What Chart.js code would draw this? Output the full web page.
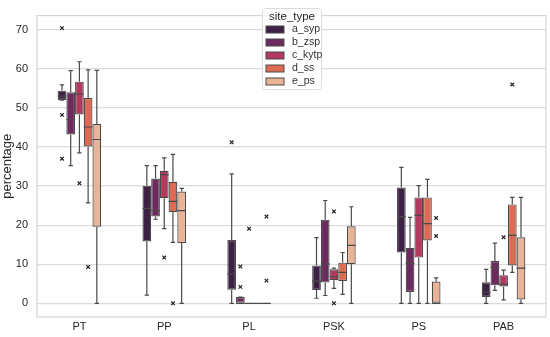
<!DOCTYPE html>
<html>
<head>
<meta charset="utf-8">
<script src="https://cdn.jsdelivr.net/npm/chart.js@4"></script>
<style>
  html, body { margin: 0; padding: 0; background: #fff; }
  #wrap { width: 550px; height: 337px; }
</style>
</head>
<body>
<div id="wrap"><canvas id="chart" width="550" height="337"></canvas></div>
<script>
// categories and hue groups
const categories = ["PT", "PP", "PL", "PSK", "PS", "PAB"];
const siteTypes = ["a_syp", "b_zsp", "c_kytp", "d_ss", "e_ps"];
const tickValues = [0, 10, 20, 30, 40, 50, 60, 70];

// box stats, one row per site type, one value per category
const q1 = [
  [52.0, 15.8, 3.5, 3.4, 13.0, 1.6],
  [43.2, 22.2, 0, 5.3, 2.9, 4.6],
  [48.3, 26.9, 0, 5.9, 11.7, 4.3],
  [40.1, 23.3, 0, 5.7, 16.1, 9.7],
  [19.6, 15.4, 0, 10.0, 0, 1.0]
];
const q3 = [
  [54.4, 30.1, 16.2, 9.7, 29.6, 5.4],
  [54.0, 31.9, 1.6, 21.4, 14.2, 10.8],
  [56.7, 33.9, 0, 8.7, 27.1, 7.2],
  [52.5, 31.1, 0, 10.4, 27.1, 25.3],
  [45.9, 28.6, 0, 19.7, 5.6, 16.9]
];
const medians = [
  [53.0, 24.3, 7.5, 5.7, 22.2, 2.8],
  [47.0, 23.7, 0, 10.1, 10.2, 9.2],
  [53.5, 32.9, 0, 6.8, 22.5, 4.9],
  [45.1, 26.1, 0, 7.9, 20.4, 17.4],
  [41.9, 23.7, 0, 14.8, 0, 9.0]
];
const whiskerLow = [
  [52.0, 2.1, 0, 1.3, 0, 0],
  [35.2, 21.5, 0, 2.0, 0, 3.3],
  [38.5, 19.1, 0, 3.8, 0, 0.9],
  [25.7, 15.6, 0, 2.3, 0, 7.9],
  [0, 0, 0, 0, 0, 0]
];
const whiskerHigh = [
  [55.9, 35.2, 33.1, 16.8, 34.8, 8.7],
  [59.5, 35.2, 1.6, 26.3, 22.0, 15.4],
  [61.8, 37.2, 0, 9.0, 30.1, 8.5],
  [59.7, 38.1, 0, 13.0, 31.7, 27.1],
  [59.6, 29.4, 0, 24.7, 6.5, 27.1]
];
const outliers = [
  [[70.4, 48.2, 37.0], [], [41.2], [], [], []],
  [[], [], [9.4, 4.2], [], [], []],
  [[30.7], [11.7], [19.1], [23.5, 0], [], [16.9]],
  [[9.3], [0], [], [], [], [56.0]],
  [[], [], [22.2, 5.8], [], [21.8, 17.2], []]
];

const colors = ["#3c2145", "#6d2a5f", "#b13a5e", "#dc6b54", "#e9b396"];
const lineGray = "#4a4a4a";
const fontFam = "'Liberation Sans', Arial, sans-serif";

// whiskers, medians, fliers on top of the bars
const boxExtras = {
  id: "boxExtras",
  afterDatasetsDraw(chart) {
    const ctx = chart.ctx;
    const y = chart.scales.y;
    ctx.save();
    chart.data.datasets.forEach((ds, i) => {
      const meta = chart.getDatasetMeta(i);
      meta.data.forEach((bar, j) => {
        const x = bar.x;
        const w = bar.width;
        const yq1 = y.getPixelForValue(q1[i][j]);
        const yq3 = y.getPixelForValue(q3[i][j]);
        const ylo = y.getPixelForValue(whiskerLow[i][j]);
        const yhi = y.getPixelForValue(whiskerHigh[i][j]);
        const ymed = y.getPixelForValue(medians[i][j]);
        ctx.strokeStyle = lineGray;
        ctx.lineWidth = 1.2;
        ctx.beginPath();
        // whiskers
        ctx.moveTo(x, yq3); ctx.lineTo(x, yhi);
        ctx.moveTo(x, yq1); ctx.lineTo(x, ylo);
        // caps
        ctx.moveTo(x - w / 4, yhi); ctx.lineTo(x + w / 4, yhi);
        ctx.moveTo(x - w / 4, ylo); ctx.lineTo(x + w / 4, ylo);
        // median
        ctx.moveTo(x - w / 2, ymed); ctx.lineTo(x + w / 2, ymed);
        ctx.stroke();

        // fliers
        ctx.strokeStyle = "#222";
        ctx.lineWidth = 1.2;
        outliers[i][j].forEach(v => {
          const py = y.getPixelForValue(v);
          ctx.beginPath();
          ctx.moveTo(x - 1.8, py - 1.8); ctx.lineTo(x + 1.8, py + 1.8);
          ctx.moveTo(x + 1.8, py - 1.8); ctx.lineTo(x - 1.8, py + 1.8);
          ctx.stroke();
        });
      });
    });
    ctx.restore();
  },
  afterDraw(chart) {
    const ctx = chart.ctx;
    const a = chart.chartArea;
    ctx.save();
    // axes frame
    ctx.strokeStyle = "#d4d4d4";
    ctx.lineWidth = 1.2;
    ctx.strokeRect(a.left, a.top, a.right - a.left, a.bottom - a.top);

    // legend box
    const lx = 262.5, ly = 8.5, lw = 59, lh = 81;
    ctx.fillStyle = "rgba(255,255,255,0.85)";
    ctx.strokeStyle = "#dddddd";
    ctx.lineWidth = 1;
    ctx.beginPath();
    ctx.roundRect(lx, ly, lw, lh, 3);
    ctx.fill();
    ctx.stroke();

    ctx.fillStyle = "#262626";
    ctx.font = "11.5px " + fontFam;
    ctx.textAlign = "center";
    ctx.textBaseline = "middle";
    ctx.fillText("site_type", lx + lw / 2, 16.5);

    ctx.textAlign = "left";
    ctx.font = "10.5px " + fontFam;
    siteTypes.forEach((name, i) => {
      const ry = 29.5 + i * 13;
      ctx.fillStyle = colors[i];
      ctx.fillRect(266, ry - 3.5, 18, 7);
      ctx.strokeStyle = lineGray;
      ctx.strokeRect(266, ry - 3.5, 18, 7);
      ctx.fillStyle = "#333";
      ctx.fillText(name, 292, ry);
    });
    ctx.restore();
  }
};

const datasets = siteTypes.map((name, i) => ({
  label: name,
  data: categories.map((c, j) => [q1[i][j], q3[i][j]]),
  backgroundColor: colors[i],
  borderColor: lineGray,
  borderWidth: 1.2,
  borderSkipped: false,
  barPercentage: 1.0,
  categoryPercentage: 0.513
}));

new Chart(document.getElementById("chart").getContext("2d"), {
  type: "bar",
  data: { labels: categories, datasets: datasets },
  options: {
    responsive: false,
    animation: false,
    layout: { padding: { top: 4, right: 4, left: 0, bottom: 0 } },
    plugins: {
      legend: { display: false },
      tooltip: { enabled: false }
    },
    scales: {
      x: {
        grid: { display: false, drawTicks: false },
        border: { display: false },
        ticks: { color: "#262626", font: { family: fontFam, size: 11 }, padding: 3 },
        afterFit: s => { s.height = 20; }
      },
      y: {
        min: -3.5,
        max: 73.6,
        afterBuildTicks: s => { s.ticks = tickValues.map(v => ({ value: v })); },
        grid: { color: "#dcdcdc", lineWidth: 1.2, drawTicks: false },
        border: { display: false },
        ticks: { color: "#262626", font: { family: fontFam, size: 11 }, padding: 9 },
        title: {
          display: true,
          text: "percentage",
          color: "#262626",
          font: { family: fontFam, size: 13 },
          padding: { top: 0, bottom: 0 }
        },
        afterFit: s => { s.width = 37; }
      }
    }
  },
  plugins: [boxExtras]
});
</script>
</body>
</html>
